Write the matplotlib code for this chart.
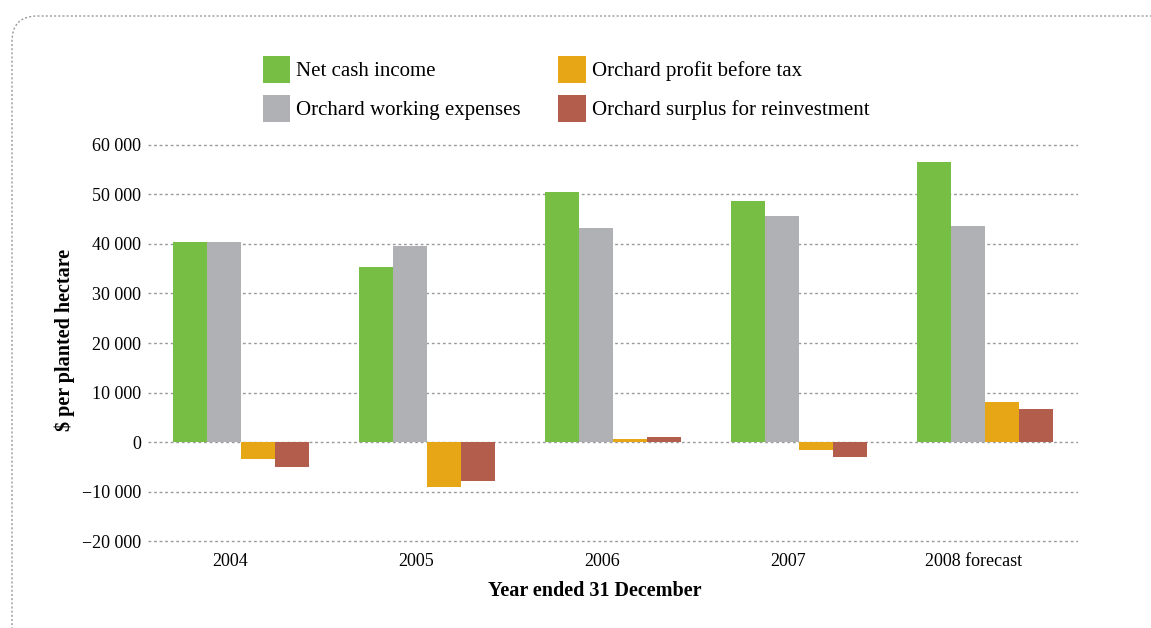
import numpy as np
import matplotlib
matplotlib.use("Agg")
import matplotlib.pyplot as plt
from matplotlib.patches import FancyBboxPatch
from matplotlib.ticker import FuncFormatter

plt.rcParams.update({
    "font.family": ["Liberation Serif", "DejaVu Serif"],
    "font.size": 13,
})

# Data ($ per planted hectare)
years = ["2004", "2005", "2006", "2007", "2008 forecast"]
net_cash_income = [40500, 35400, 50600, 48600, 56600]
working_expenses = [40500, 39500, 43300, 45700, 43700]
profit_before_tax = [-3400, -9100, 550, -1600, 8000]
surplus_reinvest = [-5000, -7900, 950, -3000, 6600]

series = [
    ("Net cash income", net_cash_income, "#76BF44"),
    ("Orchard working expenses", working_expenses, "#B0B1B4"),
    ("Orchard profit before tax", profit_before_tax, "#E6A615"),
    ("Orchard surplus for reinvestment", surplus_reinvest, "#B35E4C"),
]

W, H = 1151, 628
fig = plt.figure(figsize=(W / 100, H / 100), dpi=100)
ax = fig.add_axes([148 / W, 1 - 543 / H, (1078 - 148) / W, (543 - 143) / H])

# dotted rounded frame around the figure (runs off bottom/right)
frame = FancyBboxPatch((12 / W, -0.2), 1.3, 1 - 16 / H + 0.2,
                       boxstyle="round,pad=0,rounding_size=0.022",
                       transform=fig.transFigure, fill=False,
                       edgecolor="#9a9a9a", lw=1.0, ls=(0, (1.5, 1.5)),
                       mutation_aspect=W / H)
fig.patches.append(frame)

x = np.arange(len(years))
bw = 0.184
offsets = (np.arange(4) - 1.5) * bw
handles = []
for (label, vals, color), off in zip(series, offsets):
    b = ax.bar(x + off, vals, width=bw, color=color, label=label, zorder=3)
    handles.append(b)

ax.set_xlim(-0.5, 4.5)
ax.set_ylim(-20400, 60400)
ax.set_yticks(np.arange(-20000, 60001, 10000))
ax.yaxis.set_major_formatter(FuncFormatter(
    lambda v, p: ("\u2212" if v < 0 else "") + f"{abs(int(v)):,}".replace(",", " ")))
ax.set_xticks(x - 0.06)
ax.set_xticklabels(years)
ax.tick_params(axis="both", length=0, labelsize=13)
ax.tick_params(axis="y", pad=5)
ax.tick_params(axis="x", pad=7)
ax.grid(True, axis="y", color="#9a9a9a", lw=1.0, ls=(0, (2, 2)), zorder=0)
for s in ax.spines.values():
    s.set_visible(False)

fig.text(65 / W, 1 - 340 / H, "\\$ per planted hectare", rotation=90,
         ha="center", va="center", fontsize=14.5, fontweight="bold")
fig.text(595 / W, 1 - 591 / H, "Year ended 31 December",
         ha="center", va="center", fontsize=14.5, fontweight="bold")

fig.legend(handles=handles, loc="upper left", bbox_to_anchor=(263 / W, 1 - 56 / H),
           ncol=2, frameon=False, fontsize=15, borderpad=0, borderaxespad=0,
           handlelength=1.3, handleheight=1.6, handletextpad=0.3,
           labelspacing=0.6, columnspacing=1.8)

fig.savefig("out.png", dpi=100)
